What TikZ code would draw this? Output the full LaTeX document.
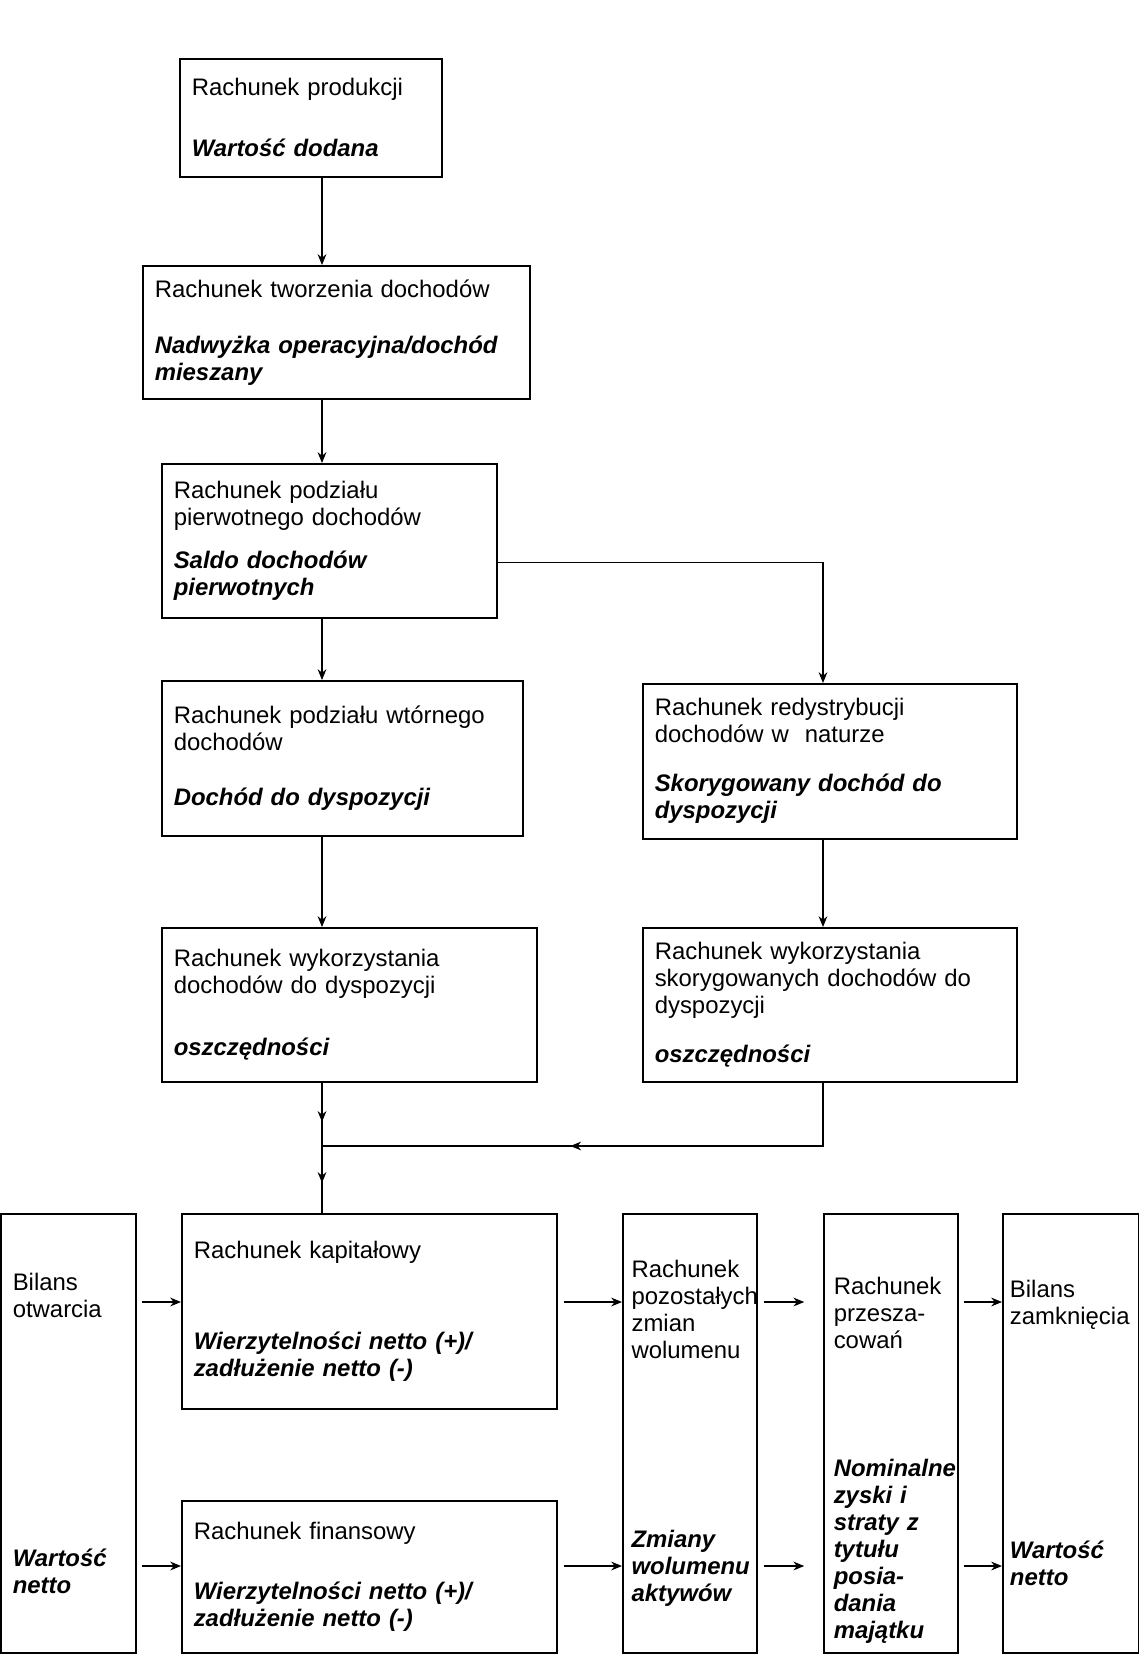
\documentclass[tikz,border=0pt]{standalone}
\usepackage{fontspec}
\setmainfont{Liberation Sans}
\usetikzlibrary{arrows.meta,decorations.markings}
\newcommand{\saldo}[1]{{\bfseries\itshape #1}}
\hyphenpenalty=10000

\begin{document}
\begin{tikzpicture}[x=0.025cm,y=-0.025cm,
    font=\fontsize{17pt}{19.2pt}\selectfont,
    acct/.style={draw,line width=1.1pt,anchor=north west,align=left,inner xsep=0.3cm,inner ysep=0pt},
    conn/.style={-{Stealth[length=2.7mm,width=2.2mm]},line width=0.8pt},
    midarrow/.style={line width=0.8pt,postaction={decorate},
      decoration={markings,mark=at position #1 with {\arrow{Stealth[length=2.7mm,width=2.2mm]}}}}]
  \useasboundingbox (0,0) rectangle (1138,1654);
  \coordinate (colL) at (322,0);
  \coordinate (colR) at (823,0);
  \coordinate (join) at (322,1146);
  \coordinate (rowA) at (0,1302);
  \coordinate (rowB) at (0,1566);

  % current accounts
  \node[acct,text width=5.95cm,minimum height=2.95cm] (prod) at (179,58)
    {Rachunek produkcji\\[0.85cm]\saldo{Wartość dodana}};
  \node[acct,text width=9.075cm,minimum height=3.325cm] (tworz) at (142,265)
    {Rachunek tworzenia dochodów\\[0.72cm]\saldo{Nadwyżka operacyjna/dochód}\\\saldo{mieszany}};
  \node[acct,text width=7.775cm,minimum height=3.85cm] (pierw) at (161,463)
    {Rachunek podziału\\pierwotnego dochodów\\[0.4cm]\saldo{Saldo dochodów}\\\saldo{pierwotnych}};
  \node[acct,text width=8.425cm,minimum height=3.875cm] (wtorn) at (161,680)
    {Rachunek podziału wtórnego\\dochodów\\[0.71cm]\saldo{Dochód do dyspozycji}};
  \node[acct,text width=8.75cm,minimum height=3.875cm] (redys) at (642,683)
    {Rachunek redystrybucji\\dochodów w~ naturze\\[0.55cm]\saldo{Skorygowany dochód do}\\\saldo{dyspozycji}};
  \node[acct,text width=8.775cm,minimum height=3.85cm] (wyk1) at (161,927)
    {Rachunek wykorzystania\\dochodów do dyspozycji\\[0.87cm]\saldo{oszczędności}};
  \node[acct,text width=8.75cm,minimum height=3.85cm] (wyk2) at (642,927)
    {Rachunek wykorzystania\\skorygowanych dochodów do\\dyspozycji\\[0.55cm]\saldo{oszczędności}};

  % accumulation accounts and balance sheets
  \node[acct,text width=2.775cm,minimum height=10.975cm] (otw) at (0,1213)
    {Bilans\\otwarcia\\[5.56cm]\saldo{Wartość}\\\saldo{netto}};
  \node[acct,text width=8.775cm,minimum height=4.875cm] (kap) at (181,1213)
    {Rachunek kapitałowy\\[1.58cm]\saldo{Wierzytelności netto (+)/}\\\saldo{zadłużenie netto (-)}};
  \node[acct,text width=8.775cm,minimum height=3.8cm] (fin) at (181,1500)
    {Rachunek finansowy\\[0.84cm]\saldo{Wierzytelności netto (+)/}\\\saldo{zadłużenie netto (-)}};
  \node[acct,inner xsep=0.22cm,text width=2.91cm,minimum height=10.975cm] (poz) at (622,1213)
    {Rachunek\\pozostałych\\zmian\\wolumenu\\[4.06cm]\saldo{Zmiany}\\\saldo{wolumenu}\\\saldo{aktywów}};
  \node[acct,inner xsep=0.25cm,text width=2.85cm,minimum height=10.975cm] (prz) at (823,1213)
    {\rule{0pt}{1.8cm}Rachunek\\przesza-\\cowań\\[2.53cm]\saldo{Nominalne}\\\saldo{zyski i}\\\saldo{straty z}\\\saldo{tytułu}\\\saldo{posia-}\\\saldo{dania}\\\saldo{majątku}};
  \node[acct,inner xsep=0.18cm,text width=3.04cm,minimum height=10.975cm] (zam) at (1002,1213)
    {Bilans\\zamknięcia\\[5.17cm]\saldo{Wartość}\\\saldo{netto}};

  \draw[conn] (prod.south -| colL) -- (tworz.north -| colL);
  \draw[conn] (tworz.south -| colL) -- (pierw.north -| colL);
  \draw[conn] (pierw.south -| colL) -- (wtorn.north -| colL);
  \draw[conn] ([yshift=-0.55cm]pierw.east) -| (redys.north -| colR);
  \draw[conn] (wtorn.south -| colL) -- (wyk1.north -| colL);
  \draw[conn] (redys.south -| colR) -- (wyk2.north -| colR);
  \draw[midarrow=0.62] (wyk1.south -| colL) -- (join);
  \draw[midarrow=0.56] (wyk2.south -| colR) |- (join);
  \draw[midarrow=0.55] (join) -- (kap.north -| colL);

  \draw[conn,shorten <=0.125cm] (otw.east |- rowA) -- (kap.west |- rowA);
  \draw[conn,shorten <=0.15cm] (kap.east |- rowA) -- (poz.west |- rowA);
  \draw[conn,shorten <=0.15cm,shorten >=0.47cm] (poz.east |- rowA) -- (prz.west |- rowA);
  \draw[conn,shorten <=0.125cm] (prz.east |- rowA) -- (zam.west |- rowA);
  \draw[conn,shorten <=0.125cm] (otw.east |- rowB) -- (fin.west |- rowB);
  \draw[conn,shorten <=0.15cm] (fin.east |- rowB) -- (poz.west |- rowB);
  \draw[conn,shorten <=0.15cm,shorten >=0.47cm] (poz.east |- rowB) -- (prz.west |- rowB);
  \draw[conn,shorten <=0.125cm] (prz.east |- rowB) -- (zam.west |- rowB);
\end{tikzpicture}
\end{document}
